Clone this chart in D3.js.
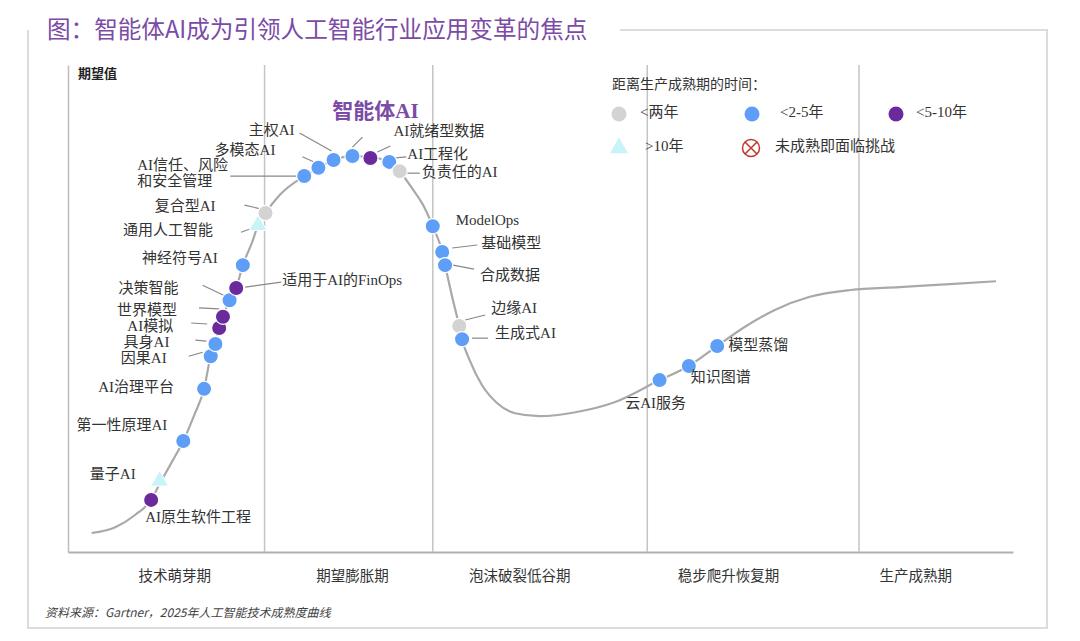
<!DOCTYPE html>
<html><head><meta charset="utf-8">
<script src="https://cdn.jsdelivr.net/npm/d3@7/dist/d3.min.js"></script>
<style>
html,body{margin:0;padding:0;background:#fff;}
svg{display:block;}
</style></head>
<body>
<svg id="chart" width="1080" height="641"></svg>
<script>
// ---------------- DATA ----------------
const titleText = "图：智能体AI成为引领人工智能行业应用变革的焦点";
const yAxisLabel = "期望值";
const sourceText = "资料来源：Gartner，2025年人工智能技术成熟度曲线";

const phaseNames = ["技术萌芽期", "期望膨胀期", "泡沫破裂低谷期", "稳步爬升恢复期", "生产成熟期"];
const phaseBoundaries = [20.8, 38.6, 61.3, 83.7];
const phaseLabelCenters = [11.3, 30.1, 47.8, 69.9, 89.7];

// Hype-cycle curve (time 0-100, expectation 0-100)
const curveX = [2.5,5.0,7.1,8.8,9.7,11.0,12.2,13.4,14.4,15.1,15.6,16.0,16.4,17.1,17.8,18.5,19.5,20.1,20.9,22.4,25.0,26.5,28.1,30.1,32.0,34.0,35.1,36.4,37.7,38.6,39.6,39.9,40.6,41.4,41.7,42.5,43.8,45.4,47.3,49.9,53.7,57.9,62.6,65.7,68.7,71.6,74.8,78.5,82.8,88.0,93.3,98.2];
const curveY = [3.9,5.1,7.6,10.7,14.0,18.5,22.8,28.3,33.5,40.2,42.7,46.0,48.3,51.7,54.2,58.9,63.7,67.1,69.6,73.3,77.2,78.9,80.5,81.3,81.1,80.1,78.2,74.7,70.8,66.9,61.6,58.9,52.8,46.4,43.7,39.4,34.3,30.6,28.5,27.9,28.7,30.8,35.3,38.2,42.3,46.2,49.7,52.4,53.8,54.4,55.0,55.6];

// Technologies
const techNames = ["AI原生软件工程","量子AI","第一性原理AI","AI治理平台","因果AI","具身AI","AI模拟","世界模型","决策智能","适用于AI的FinOps","神经符号AI","通用人工智能","复合型AI","AI信任、风险|和安全管理","多模态AI","主权AI","智能体AI","AI就绪型数据","AI工程化","负责任的AI","ModelOps","基础模型","合成数据","边缘AI","生成式AI","云AI服务","知识图谱","模型蒸馏"];
const techX = [8.8,9.7,12.2,14.4,15.1,15.6,16.0,16.4,17.1,17.8,18.5,20.1,20.9,25.0,26.5,28.1,30.1,32.0,34.0,35.1,38.6,39.6,39.9,41.4,41.7,62.6,65.7,68.7];
const techY = [10.7,14.6,22.8,33.5,40.2,42.7,46.0,48.3,51.7,54.2,58.9,67.1,69.6,77.2,78.9,80.5,81.3,80.9,80.1,78.2,66.9,61.6,58.9,46.4,43.7,35.3,38.2,42.3];
// maturity class: 0=<两年, 1=<2-5年, 2=<5-10年, 3=>10年
const techClass = [2,3,1,1,1,1,2,2,1,2,1,3,0,1,1,1,1,2,1,0,1,1,1,0,1,1,1,1];

const legendTitle = "距离生产成熟期的时间：";
const legendLabels = ["<两年", "<2-5年", "<5-10年", ">10年", "未成熟即面临挑战"];

// ---------------- LAYOUT / STYLE ----------------
const classColors = ["#d3d3d3", "#5e9ef7", "#6b2a9b", "#c8f3f8"];
// label offsets: [dx, dy, anchor, leader [x1,y1,x2,y2] or null]
const labelLayout = [
  [-6, 19, "start", null],
  [-24, -5, "end", null],
  [-16, -14, "end", null],
  [-30, 0, "end", null],
  [-44, 4, "end", [-22, 0, -8, -4]],
  [-46, 0, "end", [-20, -4, -9, -3]],
  [-46, 0, "end", [-28, -5, -12, -4]],
  [-46, -5, "end", [-24, -9, -4, -8]],
  [-51, -10, "end", [-27, -15, -6, -5]],
  [46, -6, "start", [9, -1, 45, -6]],
  [-25, -5, "end", null],
  [-45, 7, "end", [-17, 7, -3, 2]],
  [-50, -5, "end", [-21, -8, -4, -4]],
  [-167, -9, "start", [-74, 0, -7, 0]],
  [-43, -16, "end", [-16, -11, -5, -6]],
  [-39, -28, "end", [-34, -27, -2, -9]],
  [23, -43, "middle", [0, -9, 10, -19]],
  [23, -25, "start", [7, -6, 20, -12]],
  [18, -6, "start", [6, -4, 17, -5]],
  [22, 3, "start", [7, 2, 20, 2]],
  [23, -4, "start", null],
  [39, -7, "start", [10, -4, 35, -7]],
  [35, 12, "start", [8, 0, 29, 4]],
  [32, -16, "start", [6, -6, 26, -11]],
  [33, -4, "start", [10, -1, 26, -1]],
  [-4, 25, "middle", null],
  [2, 13, "start", null],
  [11, 1, "start", null]
];
const highlightName = "智能体AI";

const labelFont = "'Liberation Serif','Noto Sans CJK SC',serif";
const cjkFont = "'Noto Sans CJK SC','Noto Sans',sans-serif";

const svg = d3.select("#chart");
const plot = {left: 68, right: 1013, top: 65, bottom: 552};

const x = d3.scaleLinear().domain([0, 100]).range([plot.left, plot.right]);
const y = d3.scaleLinear().domain([0, 100]).range([plot.bottom, plot.top]);

// outer frame
svg.append("path")
  .attr("d", "M620,30 L1047,30 L1047,628 L28,628 L28,30")
  .attr("fill", "none").attr("stroke", "#dcdcdc").attr("stroke-width", 2);

// title
svg.append("text").attr("x", 47).attr("y", 38)
  .attr("font-family", cjkFont).attr("font-size", 23.6)
  .attr("fill", "#7b4ba6").text(titleText);

// axes (no ticks)
svg.append("g").attr("transform", `translate(${plot.left},0)`)
  .call(d3.axisLeft(y).tickValues([]).tickSizeOuter(0))
  .select(".domain").attr("stroke", "#bdbdbd").attr("stroke-width", 1.5);
svg.append("g").attr("transform", `translate(0,${plot.bottom})`)
  .call(d3.axisBottom(x).tickValues([]).tickSizeOuter(0))
  .select(".domain").attr("stroke", "#b0b0b0").attr("stroke-width", 2);

// phase dividers
svg.append("g").selectAll("line").data(phaseBoundaries).join("line")
  .attr("x1", d => x(d)).attr("x2", d => x(d))
  .attr("y1", y(100)).attr("y2", y(0))
  .attr("stroke", "#c4c4c4").attr("stroke-width", 1.5);

// phase labels
svg.append("g").selectAll("text").data(phaseNames).join("text")
  .attr("x", (d, i) => x(phaseLabelCenters[i])).attr("y", 581)
  .attr("text-anchor", "middle").attr("font-family", cjkFont)
  .attr("font-size", 14.5).attr("fill", "#333").text(d => d);

// y label
svg.append("text").attr("x", 78).attr("y", 78)
  .attr("font-family", cjkFont).attr("font-size", 13).attr("font-weight", "bold")
  .attr("fill", "#222").text(yAxisLabel);

// source
svg.append("text").attr("x", 45).attr("y", 617)
  .attr("font-family", cjkFont).attr("font-size", 12).attr("font-style", "italic")
  .attr("fill", "#444").text(sourceText);

// curve
const curvePts = curveX.map((v, i) => [v, curveY[i]]);
svg.append("path").datum(curvePts)
  .attr("d", d3.line().x(d => x(d[0])).y(d => y(d[1])).curve(d3.curveMonotoneX))
  .attr("fill", "none").attr("stroke", "#a9a9a9").attr("stroke-width", 2.2);

// leaders
const techs = techNames.map((n, i) => ({name: n, x: techX[i], y: techY[i], c: techClass[i], lay: labelLayout[i]}));
svg.append("g").selectAll("line").data(techs.filter(d => d.lay[3])).join("line")
  .attr("x1", d => x(d.x) + d.lay[3][0]).attr("y1", d => y(d.y) + d.lay[3][1])
  .attr("x2", d => x(d.x) + d.lay[3][2]).attr("y2", d => y(d.y) + d.lay[3][3])
  .attr("stroke", "#888").attr("stroke-width", 1.2);

// markers
const tri = d3.symbol().type(d3.symbolTriangle).size(140);
const mk = svg.append("g");
techs.forEach(d => {
  if (d.c === 3) {
    mk.append("path").attr("d", tri).attr("transform", `translate(${x(d.x)},${y(d.y)})`)
      .attr("fill", classColors[3]).attr("stroke", "#fff").attr("stroke-width", 1);
  } else {
    mk.append("circle").attr("cx", x(d.x)).attr("cy", y(d.y)).attr("r", 7.6)
      .attr("fill", classColors[d.c]).attr("stroke", "#fff").attr("stroke-width", 1.2);
  }
});

// labels
const lg = svg.append("g");
techs.forEach(d => {
  const isHi = d.name === highlightName;
  const t = lg.append("text")
    .attr("x", x(d.x) + d.lay[0]).attr("y", y(d.y) + d.lay[1])
    .attr("text-anchor", d.lay[2]).attr("dominant-baseline", "middle")
    .attr("font-family", labelFont)
    .attr("font-size", isHi ? 21 : 15)
    .attr("font-weight", isHi ? "bold" : "normal")
    .attr("fill", isHi ? "#7b4ba6" : "#333");
  const parts = d.name.split("|");
  parts.forEach((p, k) => {
    t.append("tspan").attr("x", x(d.x) + d.lay[0]).attr("dy", k === 0 ? 0 : 16).text(p);
  });
});

// legend
const lgd = svg.append("g");
lgd.append("text").attr("x", 612).attr("y", 89).attr("font-family", cjkFont)
  .attr("font-size", 14).attr("fill", "#333").text(legendTitle);
const legendItems = [
  {type: 0, mx: 619, my: 114, tx: 640},
  {type: 1, mx: 752, my: 114, tx: 780},
  {type: 2, mx: 896, my: 114, tx: 916},
  {type: 3, mx: 619, my: 148, tx: 645},
  {type: 4, mx: 751, my: 148, tx: 775}
];
legendItems.forEach((it, i) => {
  if (it.type < 3) {
    lgd.append("circle").attr("cx", it.mx).attr("cy", it.my).attr("r", 7.5).attr("fill", classColors[it.type]);
  } else if (it.type === 3) {
    lgd.append("path").attr("d", tri).attr("transform", `translate(${it.mx},${it.my})`).attr("fill", classColors[3]);
  } else {
    lgd.append("circle").attr("cx", it.mx).attr("cy", it.my).attr("r", 8.5)
      .attr("fill", "none").attr("stroke", "#c0392b").attr("stroke-width", 1.5);
    const r = 6;
    lgd.append("path").attr("d", `M${it.mx - r},${it.my - r}L${it.mx + r},${it.my + r}M${it.mx + r},${it.my - r}L${it.mx - r},${it.my + r}`)
      .attr("stroke", "#c0392b").attr("stroke-width", 1.5);
  }
  lgd.append("text").attr("x", it.tx).attr("y", it.my).attr("dominant-baseline", "middle")
    .attr("font-family", labelFont).attr("font-size", 15).attr("fill", "#333").text(legendLabels[i]);
});
</script>
</body></html>
